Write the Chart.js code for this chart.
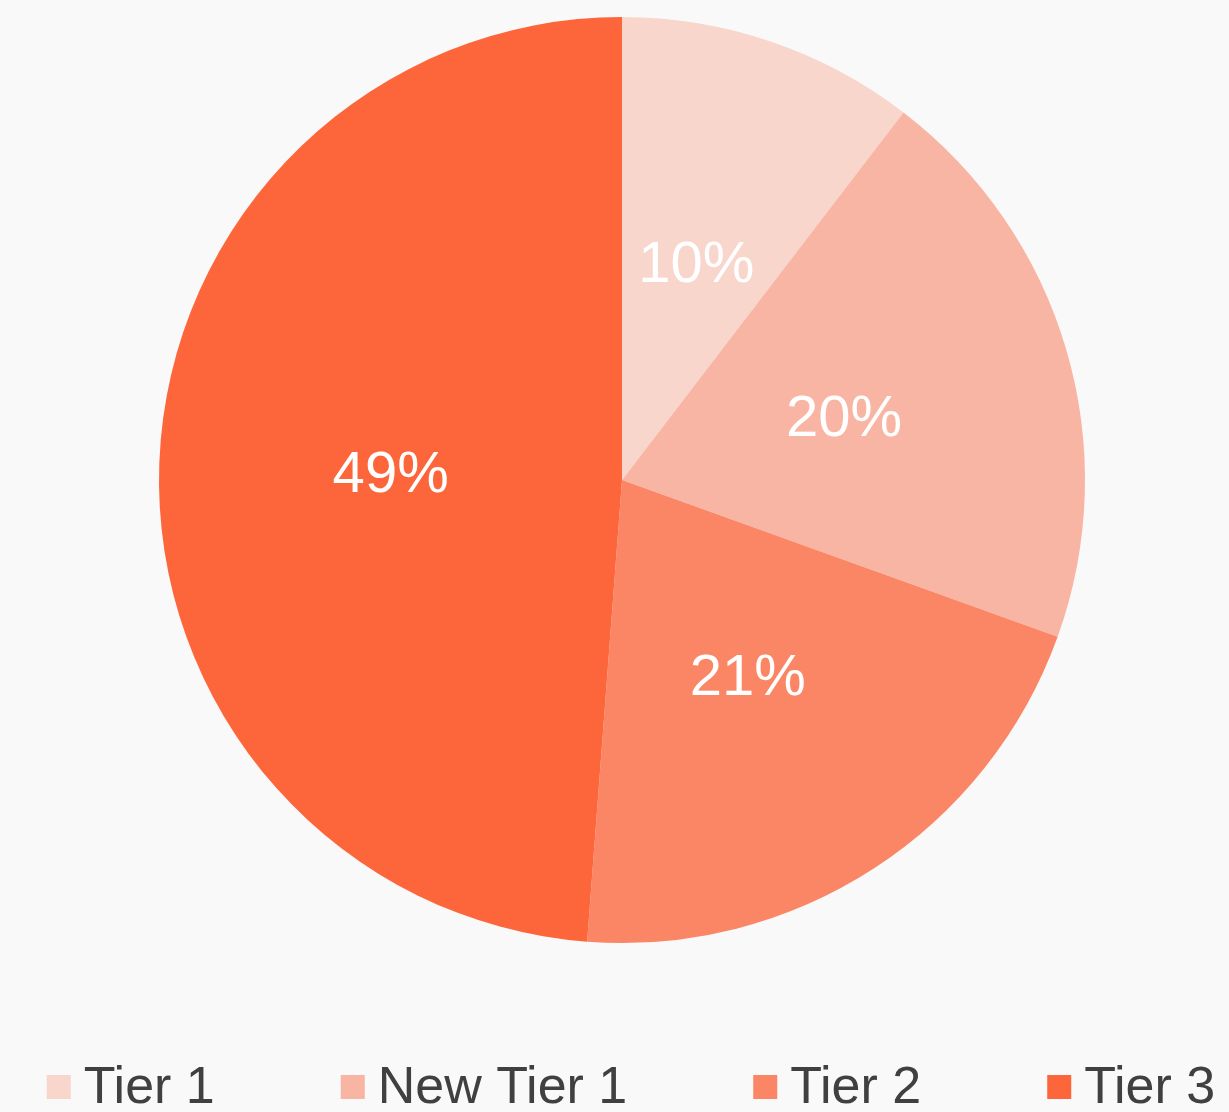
<!DOCTYPE html>
<html>
<head>
<meta charset="utf-8">
<script src="https://cdn.jsdelivr.net/npm/chart.js@4"></script>
<style>
  html, body { margin: 0; padding: 0; background: #f9f9f9; }
  canvas { display: block; }
</style>
</head>
<body>
<canvas id="tierPie" width="1229" height="1112"></canvas>
<script>
const tierLabels = ["Tier 1", "New Tier 1", "Tier 2", "Tier 3"];
const tierShares = [10.4, 20.1, 20.7, 48.8];
const tierColors = ["#f8d6cc", "#f9b5a3", "#fa8665", "#fd653b"];

const FONT = '"Liberation Sans", Arial, sans-serif';

// percentage text in the middle of each slice
const sliceLabels = {
  id: "sliceLabels",
  afterDatasetsDraw(chart) {
    const ctx = chart.ctx;
    const values = chart.data.datasets[0].data;
    const total = values.reduce((a, b) => a + b, 0);
    ctx.save();
    ctx.font = "58px " + FONT;
    ctx.fillStyle = "#ffffff";
    ctx.textAlign = "center";
    ctx.textBaseline = "middle";
    chart.getDatasetMeta(0).data.forEach((arc, i) => {
      const pos = arc.tooltipPosition();
      ctx.fillText(Math.round(values[i] / total * 100) + "%", pos.x, pos.y + 5);
    });
    ctx.restore();
  }
};

// legend row at the bottom, boxes close to their text
const bottomLegend = {
  id: "bottomLegend",
  afterDraw(chart) {
    const ctx = chart.ctx;
    const box = 24;
    const gap = 13;
    const spacing = 126;
    const y = 1087;
    ctx.save();
    ctx.font = "52px " + FONT;
    ctx.textBaseline = "middle";
    const widths = chart.data.labels.map(t => box + gap + ctx.measureText(t).width);
    const full = widths.reduce((a, b) => a + b, 0) + spacing * (widths.length - 1);
    let x = 631 - full / 2;
    chart.data.labels.forEach((text, i) => {
      ctx.fillStyle = chart.data.datasets[0].backgroundColor[i];
      ctx.fillRect(x, y - box / 2, box, box);
      ctx.fillStyle = "#404040";
      ctx.fillText(text, x + box + gap, y + 2);
      x += widths[i] + spacing;
    });
    ctx.restore();
  }
};

new Chart(document.getElementById("tierPie").getContext("2d"), {
  type: "pie",
  data: {
    labels: tierLabels,
    datasets: [
      {
        data: tierShares,
        backgroundColor: tierColors,
        borderWidth: 0
      }
    ]
  },
  options: {
    responsive: false,
    animation: false,
    layout: { padding: { top: 17, left: 15, right: 0, bottom: 169 } },
    plugins: {
      legend: { display: false },
      tooltip: { enabled: false }
    }
  },
  plugins: [sliceLabels, bottomLegend]
});
</script>
</body>
</html>
